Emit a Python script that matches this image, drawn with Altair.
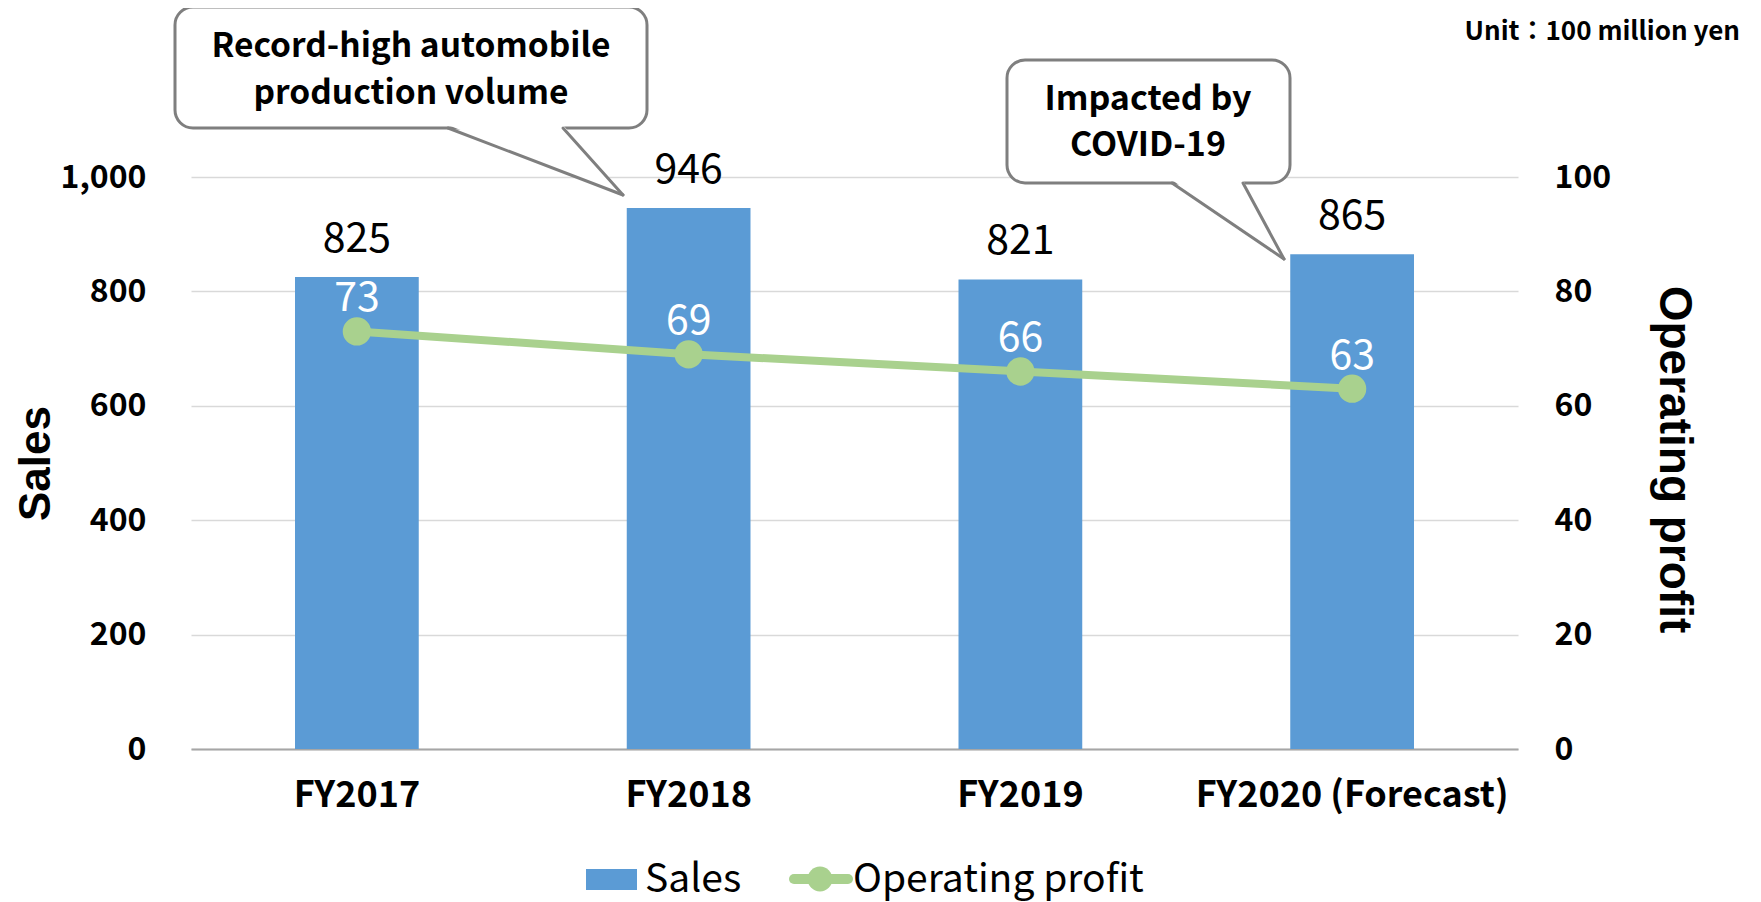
import altair as alt
import pandas as pd

# ---- data ----
years = ["FY2017", "FY2018", "FY2019", "FY2020 (Forecast)"]
sales = [825, 946, 821, 865]
profit = [73, 69, 66, 63]
sales_ticks = [0, 200, 400, 600, 800, 1000]
profit_ticks = [0, 20, 40, 60, 80, 100]
callout1_lines = ["Record-high automobile", "production volume"]
callout2_lines = ["Impacted by", "COVID-19"]
unit_text = "Unit：100 million yen"
legend_labels = ["Sales", "Operating profit"]

df = pd.DataFrame({"year": years, "sales": sales, "profit": profit})

W, H = 1327, 572
FONT = "Noto Sans CJK JP"
TFONT = "Liberation Sans"
BLUE = "#5B9BD5"
GREEN = "#A9D18E"
GRAY = "#7F7F7F"
GRID = "#D9D9D9"

x_enc = alt.X(
    "year:N",
    sort=years,
    scale=alt.Scale(paddingInner=0.627, paddingOuter=0.3135),
    axis=alt.Axis(
        title=None, labelAngle=0, labelFont=FONT, labelFontSize=36,
        labelFontWeight="bold", labelColor="black", labelPadding=29, labelLimit=0,
        ticks=False, domainColor="#A6A6A6", domainWidth=2, grid=False,
    ),
)

y_sales = alt.Y(
    "sales:Q",
    scale=alt.Scale(domain=[0, 1000], nice=False),
    axis=alt.Axis(
        values=sales_ticks, format=",d", title="Sales", orient="left",
        labelFont=FONT, labelFontSize=32, labelFontWeight="bold", labelColor="black",
        labelPadding=45, ticks=False, domain=False,
        grid=True, gridColor=GRID, gridWidth=1.5,
        titleFont=TFONT, titleFontSize=44, titleFontWeight="bold", titleColor="black",
        titleAngle=270, titleX=-155, titleY=H / 2, titleAlign="center", titleBaseline="middle",
    ),
)

y_profit = alt.Y(
    "profit:Q",
    scale=alt.Scale(domain=[0, 100], nice=False),
    axis=alt.Axis(
        values=profit_ticks, title="Operating profit", orient="right",
        labelFont=FONT, labelFontSize=32, labelFontWeight="bold", labelColor="black",
        labelPadding=36, ticks=False, domain=False, grid=False,
        titleFont=TFONT, titleFontSize=46, titleFontWeight="bold", titleColor="black",
        titleAngle=90, titleX=155, titleY=H / 2 - 4, titleAlign="center", titleBaseline="middle",
    ),
)

base = alt.Chart(df)

bars = base.mark_bar(color=BLUE).encode(x=x_enc, y=y_sales)
bar_text = base.mark_text(
    font=FONT, fontSize=41, color="black", baseline="alphabetic", dy=-25
).encode(x=x_enc, y=y_sales, text=alt.Text("sales:Q"))
sales_layer = alt.layer(bars, bar_text)

line = base.mark_line(color=GREEN, strokeWidth=8).encode(x=x_enc, y=y_profit)
pts = base.mark_circle(color=GREEN, size=800, opacity=1).encode(x=x_enc, y=y_profit)
line_text = base.mark_text(
    font=FONT, fontSize=41, color="white", baseline="alphabetic", dy=-20
).encode(x=x_enc, y=y_profit, text=alt.Text("profit:Q"))
profit_layer = alt.layer(line, pts, line_text)

one = alt.Data(values=[{"k": 1}])


def box(x1, x2, y1, y2):
    return alt.Chart(one).mark_rect(
        fill="white", stroke=GRAY, strokeWidth=3, cornerRadius=18
    ).encode(x=alt.value(x1), x2=alt.value(x2), y=alt.value(y1), y2=alt.value(y2))


def tail_fill(cx, cy, path, size):
    return alt.Chart(one).mark_point(
        shape=path, size=size, filled=True, fill="white", opacity=1, strokeWidth=0
    ).encode(x=alt.value(cx), y=alt.value(cy))


def edge(x1, y1, x2, y2):
    return alt.Chart(one).mark_rule(
        color=GRAY, strokeWidth=3, strokeCap="round"
    ).encode(x=alt.value(x1), y=alt.value(y1), x2=alt.value(x2), y2=alt.value(y2))


def label(txt, xv, yv, size, weight="bold", align="center", color="black"):
    return alt.Chart(one).mark_text(
        font=FONT, fontSize=size, fontWeight=weight, align=align,
        baseline="alphabetic", color=color,
    ).encode(x=alt.value(xv), y=alt.value(yv), text=alt.value(txt))


callout1 = [
    box(-16, 456, -170, -49),
    tail_fill(344.5, -17, "M-1,-0.4L1,0.4L0.314,-0.4Z", 175 ** 2),
    edge(257, -49, 432, 18),
    edge(372, -49, 432, 18),
    label(callout1_lines[0], 220, -120, 33.5),
    label(callout1_lines[1], 220, -73, 33.5),
]

callout2 = [
    box(816, 1099, -117, 6),
    tail_fill(1037, 42.5, "M-1,-0.705L1,0.705L0.268,-0.705Z", 112 ** 2),
    edge(981, 6, 1093, 82),
    edge(1052, 6, 1093, 82),
    label(callout2_lines[0], 957, -67, 34),
    label(callout2_lines[1], 957, -21, 34),
]

unit = [label(unit_text, 1549, -137, 26, align="right")]

legend = [
    alt.Chart(one).mark_rect(color=BLUE).encode(
        x=alt.value(395), x2=alt.value(446), y=alt.value(692), y2=alt.value(713)
    ),
    label(legend_labels[0], 454, 715, 39, weight="normal", align="left"),
    alt.Chart(one).mark_rule(color=GREEN, strokeWidth=10, strokeCap="round").encode(
        x=alt.value(603), x2=alt.value(657), y=alt.value(702)
    ),
    alt.Chart(one).mark_circle(color=GREEN, size=615, opacity=1).encode(
        x=alt.value(629), y=alt.value(702)
    ),
    label(legend_labels[1], 662, 715, 39, weight="normal", align="left"),
]

chart = alt.layer(
    sales_layer, profit_layer, *callout1, *callout2, *unit, *legend
).resolve_scale(y="independent").properties(
    width=W, height=H,
    autosize=alt.AutoSizeParams(type="none"),
    padding={"left": 183, "top": 169, "right": 235, "bottom": 153},
    background="white",
).configure_view(stroke=None)

chart.save("out.html", embed_options={"renderer": "svg", "actions": False})
